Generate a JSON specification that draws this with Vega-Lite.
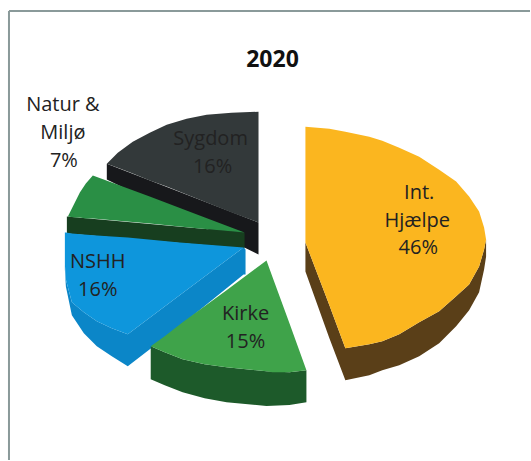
{"$schema":"https://vega.github.io/schema/vega-lite/v6.json","width":531,"height":461,"padding":0,"autosize":{"type":"fit","contains":"padding"},"background":"#ffffff","view":{"stroke":null},
"datasets":{"shapes":[
{"p":"Sygdom side","x":107,"top":164,"bot":180},{"p":"Sygdom side","x":259,"top":223,"bot":255},
{"p":"Sygdom top","x":107,"top":164,"bot":164},{"p":"Sygdom top","x":118,"top":153,"bot":168},{"p":"Sygdom top","x":133,"top":142,"bot":174},{"p":"Sygdom top","x":150,"top":133,"bot":181},{"p":"Sygdom top","x":167,"top":125,"bot":187},{"p":"Sygdom top","x":187,"top":119,"bot":195},{"p":"Sygdom top","x":207,"top":115,"bot":203},{"p":"Sygdom top","x":232,"top":113,"bot":213},{"p":"Sygdom top","x":259,"top":112,"bot":223},
{"p":"Natur side","x":67,"top":217,"bot":234},{"p":"Natur side","x":245,"top":233,"bot":249},
{"p":"Natur top","x":68,"top":217,"bot":217},{"p":"Natur top","x":75,"top":203,"bot":218},{"p":"Natur top","x":80,"top":193,"bot":218},{"p":"Natur top","x":86,"top":184,"bot":219},{"p":"Natur top","x":93,"top":176,"bot":219},{"p":"Natur top","x":150,"top":197,"bot":224},{"p":"Natur top","x":200,"top":216,"bot":229},{"p":"Natur top","x":245,"top":233,"bot":233},
{"p":"NSHH side","x":65,"top":265,"bot":270},{"p":"NSHH side","x":66,"top":280,"bot":287},{"p":"NSHH side","x":72,"top":303,"bot":316},{"p":"NSHH side","x":84,"top":313,"bot":334},{"p":"NSHH side","x":97,"top":322,"bot":347},{"p":"NSHH side","x":112,"top":329,"bot":357},{"p":"NSHH side","x":128,"top":335,"bot":367},{"p":"NSHH side","x":180,"top":296,"bot":327},{"p":"NSHH side","x":244,"top":248,"bot":275},{"p":"NSHH side","x":246,"top":250,"bot":275},
{"p":"NSHH top","x":65,"top":233,"bot":265},{"p":"NSHH top","x":66,"top":233,"bot":280},{"p":"NSHH top","x":72,"top":234,"bot":303},{"p":"NSHH top","x":84,"top":235,"bot":313},{"p":"NSHH top","x":97,"top":236,"bot":322},{"p":"NSHH top","x":112,"top":237,"bot":329},{"p":"NSHH top","x":128,"top":238,"bot":335},{"p":"NSHH top","x":180,"top":243,"bot":296},{"p":"NSHH top","x":244,"top":248,"bot":248},
{"p":"Kirke side","x":151,"top":347,"bot":380},{"p":"Kirke side","x":165,"top":353,"bot":386},{"p":"Kirke side","x":183,"top":360,"bot":393},{"p":"Kirke side","x":205,"top":365,"bot":399},{"p":"Kirke side","x":227,"top":368,"bot":403},{"p":"Kirke side","x":267,"top":372,"bot":407},{"p":"Kirke side","x":290,"top":373,"bot":406},{"p":"Kirke side","x":307,"top":371,"bot":403},
{"p":"Kirke top","x":151,"top":347,"bot":347},{"p":"Kirke top","x":165,"top":337,"bot":353},{"p":"Kirke top","x":183,"top":323,"bot":360},{"p":"Kirke top","x":205,"top":307,"bot":365},{"p":"Kirke top","x":227,"top":291,"bot":368},{"p":"Kirke top","x":267,"top":261,"bot":372},{"p":"Kirke top","x":273,"top":277.5,"bot":373},{"p":"Kirke top","x":290,"top":324,"bot":373},{"p":"Kirke top","x":307,"top":371,"bot":371},
{"p":"Hjælpe side","x":306,"top":243,"bot":272},{"p":"Hjælpe side","x":330,"top":306,"bot":339},{"p":"Hjælpe side","x":346,"top":349,"bot":381},{"p":"Hjælpe side","x":370,"top":345,"bot":376},{"p":"Hjælpe side","x":383,"top":342,"bot":371},{"p":"Hjælpe side","x":400,"top":335,"bot":366},{"p":"Hjælpe side","x":420,"top":323,"bot":357},{"p":"Hjælpe side","x":440,"top":312,"bot":344},{"p":"Hjælpe side","x":457,"top":297,"bot":327},{"p":"Hjælpe side","x":470,"top":285,"bot":311},{"p":"Hjælpe side","x":480,"top":267,"bot":293},{"p":"Hjælpe side","x":485,"top":250,"bot":270},{"p":"Hjælpe side","x":487,"top":240,"bot":257},
{"p":"Hjælpe top","x":306,"top":127,"bot":243},{"p":"Hjælpe top","x":330,"top":129,"bot":306},{"p":"Hjælpe top","x":346,"top":132,"bot":349},{"p":"Hjælpe top","x":370,"top":137,"bot":345},{"p":"Hjælpe top","x":383,"top":141,"bot":342},{"p":"Hjælpe top","x":400,"top":148,"bot":335},{"p":"Hjælpe top","x":420,"top":157,"bot":323},{"p":"Hjælpe top","x":440,"top":170,"bot":312},{"p":"Hjælpe top","x":457,"top":182,"bot":297},{"p":"Hjælpe top","x":470,"top":197,"bot":285},{"p":"Hjælpe top","x":480,"top":212,"bot":267},{"p":"Hjælpe top","x":485,"top":228,"bot":250},{"p":"Hjælpe top","x":487,"top":240,"bot":240}
],
"labels":[
{"t":"Natur &","x":63,"y":105},{"t":"Miljø","x":63,"y":133},{"t":"7%","x":64,"y":161},
{"t":"Sygdom","x":211,"y":139},{"t":"16%","x":213,"y":167},
{"t":"Int.","x":420,"y":193},{"t":"Hjælpe","x":418,"y":221},{"t":"46%","x":419,"y":249},
{"t":"NSHH","x":98,"y":263},{"t":"16%","x":98,"y":291},
{"t":"Kirke","x":246,"y":315},{"t":"15%","x":246,"y":343}
]},
"layer":[
{"data":{"values":[{"a":9,"c":531,"b":11}]},"mark":{"type":"rule","stroke":"#8a9a9a","strokeWidth":2},"encoding":{"x":{"field":"a","type":"quantitative","scale":{"domain":[0,531]},"axis":null},"x2":{"field":"c"},"y":{"field":"b","type":"quantitative","scale":{"domain":[461,0]},"axis":null}}},
{"data":{"values":[{"a":9,"b":11,"d":461}]},"mark":{"type":"rule","stroke":"#8a9a9a","strokeWidth":2},"encoding":{"x":{"field":"a","type":"quantitative","scale":{"domain":[0,531]},"axis":null},"y":{"field":"b","type":"quantitative","scale":{"domain":[461,0]},"axis":null},"y2":{"field":"d"}}},
{"data":{"name":"shapes"},"mark":{"type":"area","interpolate":"linear","orient":"vertical"},"encoding":{"x":{"field":"x","type":"quantitative","stack":null,"scale":{"domain":[0,531]},"axis":null},"y":{"field":"top","type":"quantitative","stack":null,"scale":{"domain":[461,0]},"axis":null},"y2":{"field":"bot"},"color":{"field":"p","type":"nominal","legend":null,"scale":{"domain":["Sygdom side","Sygdom top","Natur side","Natur top","NSHH side","NSHH top","Kirke side","Kirke top","Hjælpe side","Hjælpe top"],"range":["#17181b","#33393a","#173e1f","#2a8f45","#0b86c8","#0e96dc","#1d5a2a","#3fa34a","#5a3f18","#fbb61f"]}}}},
{"data":{"name":"labels"},"mark":{"type":"text","font":"Open Sans","fontSize":20,"align":"center","baseline":"middle","color":"#222222"},"encoding":{"x":{"field":"x","type":"quantitative","scale":{"domain":[0,531]},"axis":null},"y":{"field":"y","type":"quantitative","scale":{"domain":[461,0]},"axis":null},"text":{"field":"t"}}},
{"data":{"values":[{"t":"2020","x":273,"y":60}]},"mark":{"type":"text","font":"Open Sans","fontSize":23,"fontWeight":"bold","align":"center","baseline":"middle","color":"#111111"},"encoding":{"x":{"field":"x","type":"quantitative","scale":{"domain":[0,531]},"axis":null},"y":{"field":"y","type":"quantitative","scale":{"domain":[461,0]},"axis":null},"text":{"field":"t"}}}
]}
